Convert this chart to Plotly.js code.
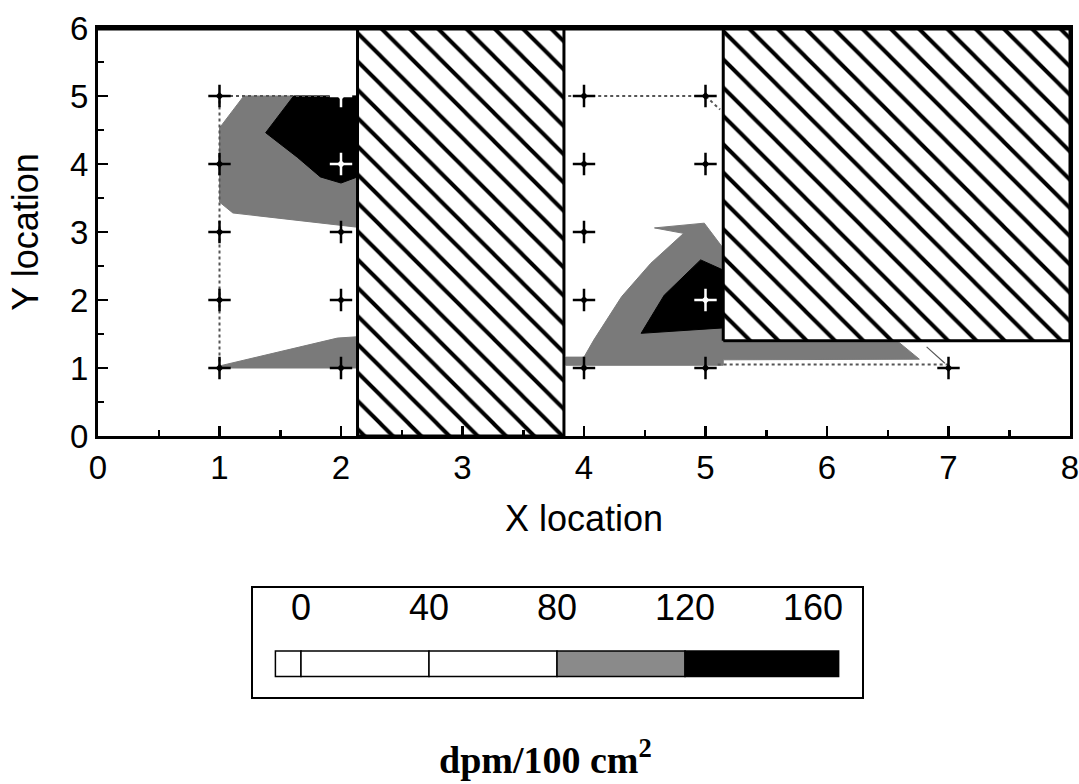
<!DOCTYPE html>
<html>
<head>
<meta charset="utf-8">
<script src="https://cdn.plot.ly/plotly-3.0.1.min.js"></script>
<style>html,body{margin:0;padding:0;background:#fff;}#chart{width:1079px;height:784px;}</style>
</head>
<body>
<div id="chart"></div>
<script>
// ---- data ----
// measurement grid points
const ptsBlackX = [1,1,1,1,1,2,2,2,4,4,4,4,4,5,5,5,7];
const ptsBlackY = [1,2,3,4,5,1,2,3,1,2,3,4,5,1,4,5,1];
const ptsWhiteX = [2,2,5];
const ptsWhiteY = [4,5,2];

// contour band polygons (80-120 gray, >120 black)
const grayLeftTopX = [1.2,2.136,2.136,1.11,1.0,1.0,1.2];
const grayLeftTopY = [5.0,5.0,3.07,3.28,3.44,4.53,5.0];
const blackLeftX = [1.61,2.136,2.136,2.0,1.83,1.64,1.38,1.61];
const blackLeftY = [5.0,5.0,3.81,3.72,3.81,4.10,4.46,5.0];
const grayLeftBotX = [1.0,1.97,2.136,2.136,1.0];
const grayLeftBotY = [1.03,1.44,1.46,1.0,1.0];
const grayMidX = [3.85,3.85,4.0,4.08,4.31,4.55,4.82,4.58,4.99,5.146,5.146,6.59,6.76,5.146,5.146,3.85];
const grayMidY = [1.04,1.16,1.16,1.41,2.05,2.54,2.98,3.06,3.13,2.76,1.38,1.38,1.13,1.12,1.04,1.04];
const blackMidX = [4.47,4.66,4.96,5.146,5.146,4.47];
const blackMidY = [1.51,2.07,2.59,2.44,1.59,1.51];

// grid / connecting lines
const gridLeftX = [2,1,1];
const gridLeftY = [5,5,1];
const gridRightX = [3.87,5,5.12];
const gridRightY = [5,5,4.8];
const gridBotX = [5.1,7];
const gridBotY = [1.05,1.05];
const gridDiagX = [6.82,6.97];
const gridDiagY = [1.31,1.07];

// obstructions (hatched)
const hatch1X = [2.136,3.835,3.835,2.136,2.136];
const hatch1Y = [0,0,6,6,0];
const hatch2X = [5.146,8,8,5.146,5.146];
const hatch2Y = [1.40,1.40,6,6,1.40];

// colour scale legend
const legendBase = [-8,0,40,80,120];
const legendWidth = [8,40,40,40,48];
const legendColors = ['#ffffff','#ffffff','#ffffff','#8a8a8a','#000000'];
const legendTickVals = [0,40,80,120,160];
const legendTickText = ['0','40','80','120','160'];

const GRAY = '#7a7a7a';
function poly(x,y,color){
  return {x:x,y:y,type:'scatter',mode:'lines',fill:'toself',fillcolor:color,
    line:{color:color,width:1},hoverinfo:'skip',showlegend:false,xaxis:'x',yaxis:'y'};
}
function gline(x,y,dash,w){
  return {x:x,y:y,type:'scatter',mode:'lines',line:{color:'#555',width:w||2,dash:dash||'dot'},
    hoverinfo:'skip',showlegend:false};
}
function hatch(x,y){
  return {x:x,y:y,type:'scatter',mode:'lines',fill:'toself',fillcolor:'#ffffff',
    fillpattern:{shape:'\\',fgcolor:'#000000',bgcolor:'#ffffff',size:20,solidity:0.2},
    line:{color:'#000',width:3},hoverinfo:'skip',showlegend:false};
}

const traces = [
  poly(grayLeftTopX,grayLeftTopY,GRAY),
  poly(blackLeftX,blackLeftY,'#000'),
  poly(grayLeftBotX,grayLeftBotY,GRAY),
  poly(grayMidX,grayMidY,GRAY),
  poly(blackMidX,blackMidY,'#000'),
  gline(gridLeftX,gridLeftY),
  gline(gridRightX,gridRightY),
  gline(gridBotX,gridBotY),
  gline(gridDiagX,gridDiagY,'solid',1.2),
  {x:ptsBlackX,y:ptsBlackY,type:'scatter',mode:'markers',
    marker:{symbol:'cross-thin',size:16,line:{color:'#000',width:2.5}},hoverinfo:'skip',showlegend:false},
  {x:ptsBlackX,y:ptsBlackY,type:'scatter',mode:'markers',
    marker:{symbol:'diamond',size:6,color:'#000'},hoverinfo:'skip',showlegend:false},
  {x:ptsWhiteX,y:ptsWhiteY,type:'scatter',mode:'markers',
    marker:{symbol:'cross-thin',size:16,line:{color:'#fff',width:2.5}},hoverinfo:'skip',showlegend:false},
  {x:ptsWhiteX,y:ptsWhiteY,type:'scatter',mode:'markers',
    marker:{symbol:'diamond',size:6,color:'#fff'},hoverinfo:'skip',showlegend:false},
  hatch(hatch1X,hatch1Y),
  hatch(hatch2X,hatch2Y),
  // legend bar
  {type:'bar',orientation:'h',y:legendBase.map(()=>0.305),x:legendWidth,base:legendBase,width:0.235,
    marker:{color:legendColors,line:{color:'#000',width:1.5}},xaxis:'x2',yaxis:'y2',hoverinfo:'skip',showlegend:false},
  {type:'scatter',mode:'text',x:legendTickVals,y:legendTickVals.map(()=>0.79),text:legendTickText,
    textfont:{family:'Liberation Sans, Arial, sans-serif',size:36,color:'#000'},xaxis:'x2',yaxis:'y2',hoverinfo:'skip',showlegend:false}
];

const tickFont = {family:'Liberation Sans, Arial, sans-serif',size:33,color:'#000'};
const titleFont = {family:'Liberation Sans, Arial, sans-serif',size:36,color:'#000'};
const layout = {
  width:1079,height:784,
  margin:{l:0,r:0,t:0,b:0},
  paper_bgcolor:'#fff',plot_bgcolor:'#fff',
  showlegend:false,
  barmode:'overlay',
  font:tickFont,
  xaxis:{domain:[98/1079,1070/1079],range:[0,8],showgrid:false,zeroline:false,
    showline:true,linewidth:3,linecolor:'#000',mirror:true,ticklabeloverflow:'allow',
    ticks:'inside',ticklen:10,tickwidth:2.5,tickcolor:'#000',dtick:1,tick0:0,
    minor:{dtick:0.5,ticks:'inside',ticklen:6,tickwidth:2.5,tickcolor:'#000'},
    tickfont:tickFont,title:{text:'X location',font:titleFont,standoff:22}},
  yaxis:{domain:[1-436/784,1-28/784],range:[0,6],showgrid:false,zeroline:false,
    showline:true,linewidth:3,linecolor:'#000',mirror:true,ticklabeloverflow:'allow',
    ticks:'inside',ticklen:10,tickwidth:2.5,tickcolor:'#000',dtick:1,tick0:0,
    minor:{dtick:0.5,ticks:'inside',ticklen:6,tickwidth:2.5,tickcolor:'#000'},
    tickfont:tickFont,title:{text:'Y location',font:titleFont,standoff:21}},
  xaxis2:{domain:[253/1079,862/1079],range:[-15,175.3],anchor:'y2',showgrid:false,zeroline:false,
    showline:true,linewidth:2,linecolor:'#000',mirror:true,ticks:'',showticklabels:false},
  yaxis2:{domain:[1-697/784,1-588/784],range:[0,1],anchor:'x2',showgrid:false,zeroline:false,
    showline:true,linewidth:2,linecolor:'#000',mirror:true,ticks:'',showticklabels:false},
  shapes:[{type:'line',xref:'paper',yref:'y',x0:96/1079,x1:1071/1079,y0:6,y1:6,line:{color:'#000',width:5}}],
  annotations:[{xref:'paper',yref:'paper',x:545/1079,y:1/784,xanchor:'center',yanchor:'bottom',
    showarrow:false,text:'<b>dpm/100 cm<sup>2</sup></b>',
    font:{family:'Liberation Serif, Times New Roman, serif',size:38,color:'#000'}}]
};

Plotly.newPlot('chart',traces,layout,{displayModeBar:false,staticPlot:true});
</script>
</body>
</html>
